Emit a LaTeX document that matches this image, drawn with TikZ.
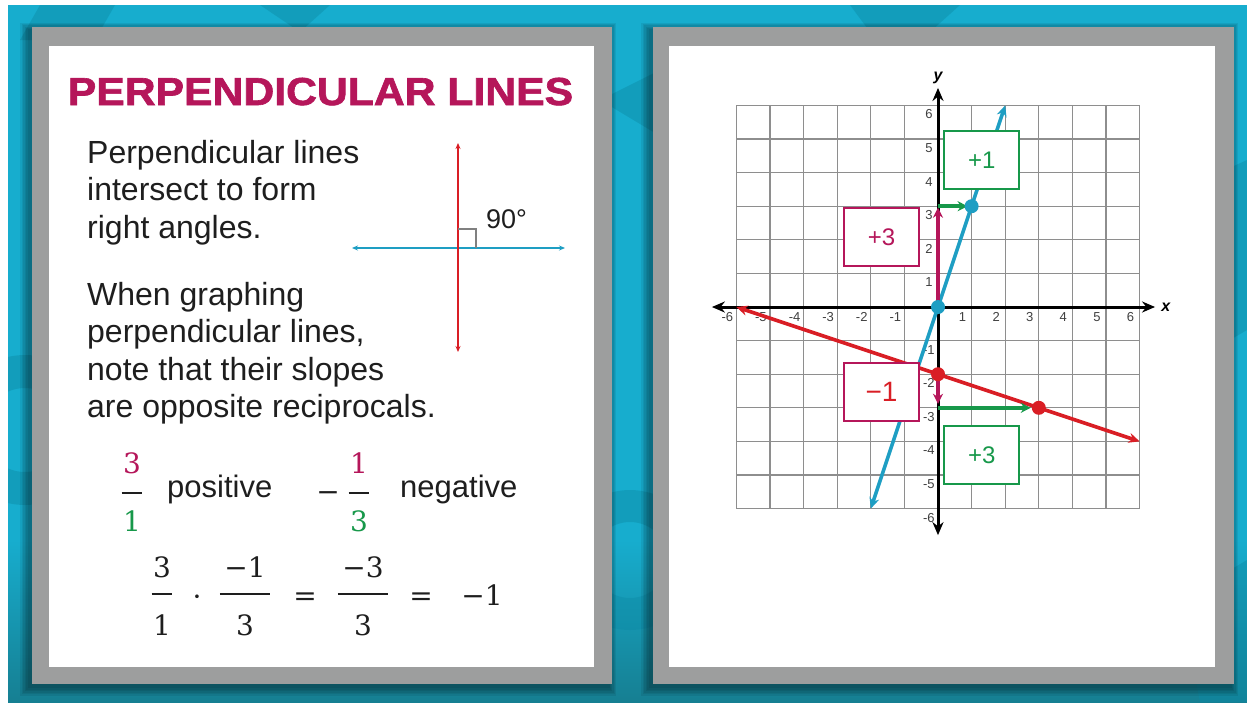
\documentclass[tikz,border=0pt]{standalone}
\usepackage{fontspec}
\newfontfamily\plainsans{Liberation Sans}
\newfontfamily\titlefont{Liberation Sans}[BoldFeatures={FakeBold=1.6}]
\newfontfamily\numserif{DejaVu Serif}
\usepackage{amsmath}
\usepackage{graphicx}
\usetikzlibrary{arrows.meta,positioning}
\definecolor{tealbg}{HTML}{17ADCE}
\definecolor{tealdark}{HTML}{0C8BA6}
\definecolor{tealfoot}{HTML}{167F92}
\definecolor{framegray}{HTML}{9D9E9E}
\definecolor{berry}{HTML}{B5165A}
\definecolor{leaf}{HTML}{17984A}
\definecolor{sky}{HTML}{1E9EC3}
\definecolor{ruby}{HTML}{D91E25}
\definecolor{gridgray}{HTML}{8E8E8E}
\definecolor{ink}{HTML}{1E1E1E}
% fraction with serif digits: numerator, denominator, side kern,
% numerator depth, denominator height
\newcommand{\numfrac}[5]{%
  \genfrac{}{}{1.8pt}{0}%
    {\kern#3\text{\numserif#1}\kern#3\rule[-#4]{0pt}{0pt}}%
    {\rule{0pt}{#5}\text{\numserif#2}}}
\tikzset{
  panel/.style={fill=framegray},
  panelface/.style={fill=white},
  bgshape/.style={fill=tealdark, opacity=0.45},
  titletext/.style={
    font=\titlefont\bfseries\fontsize{39}{39}\selectfont,
    text=berry, inner sep=0pt, anchor=base
  },
  bodytext/.style={
    font=\plainsans\fontsize{32}{37.5}\selectfont,
    text=ink, align=left, inner sep=0pt, anchor=north west
  },
  wordtext/.style={
    font=\plainsans\fontsize{31}{31}\selectfont,
    text=ink, inner sep=0pt, anchor=base west
  },
  mathbit/.style={
    font=\numserif\fontsize{28}{34}\selectfont, text=ink, inner sep=0pt,
    anchor=base
  },
  perpline/.style={
    #1, line width=1.6pt,
    {Stealth[length=6pt,width=5pt]}-{Stealth[length=6pt,width=5pt]}
  },
  anglemark/.style={gray, line width=1.2pt},
  gridline/.style={gridgray, line width=1.2pt},
  axisline/.style={
    black, line width=3pt,
    {Stealth[length=13pt,width=11pt]}-{Stealth[length=13pt,width=11pt]}
  },
  graphline/.style={
    #1, line width=3.6pt,
    {Stealth[length=11pt,width=10pt]}-{Stealth[length=11pt,width=10pt]}
  },
  runarrow/.style={#1, line width=3.6pt, -{Stealth[length=10pt,width=10pt]}},
  ptdot/.style={circle, fill=#1, minimum size=14pt, inner sep=0pt},
  stepbox/.style={
    draw=#1, line width=2pt, fill=white,
    minimum width=75pt, minimum height=58pt, inner sep=0pt,
    font=\plainsans\fontsize{24}{24}\selectfont, text=#1
  },
  ticklabel/.style={
    font=\plainsans\fontsize{13}{13}\selectfont, text=black!75, inner sep=0pt
  },
  axislabel/.style={
    font=\plainsans\bfseries\itshape\fontsize{16}{16}\selectfont, inner sep=0pt
  },
}

\begin{document}
\begin{tikzpicture}[x=1pt, y=-1pt]
  \useasboundingbox (0,0) rectangle (1247,702);
  \fill[white] (0,0) rectangle (1247,702);

  % Backdrop
  \fill[tealbg] (8,5) rectangle (1247,702);
  \shade[top color=tealbg, bottom color=tealfoot] (8,540) rectangle (1247,702);
  \begin{scope}
    \clip (8,5) rectangle (1247,702);
    \fill[bgshape, even odd rule] (25,430) circle (75) (25,430) circle (42);
    \fill[bgshape] (40,5) -- (115,5) -- (95,40) -- (20,40) -- cycle;
    \fill[bgshape] (260,5) -- (330,5) -- (300,32) -- cycle;
    \fill[bgshape] (850,5) -- (960,5) -- (930,32) -- (870,32) -- cycle;
    \fill[bgshape] (600,100) -- (680,60) -- (700,160) -- cycle;
    \fill[bgshape, even odd rule] (630,560) circle (70) (630,560) circle (38);
    \fill[bgshape] (1225,170) -- (1247,160) -- (1247,330) -- (1230,340) -- cycle;
    \fill[bgshape] (1180,600) -- (1247,560) -- (1247,702) -- (1200,702) -- cycle;
  \end{scope}

  % Frame shadows
  \foreach \xa/\xb in {32/612, 653/1234}
    \foreach \k in {0,...,5}
      \fill[black, opacity=0.07]
        (\xa-4-\k*1.6, 29-\k*1.2) rectangle (\xb-2+\k*1.2, 688+\k*1.6);

  % Panels
  \fill[panel] (32,27) rectangle (612,684);
  \fill[panelface] (49,46) rectangle (594,667);
  \fill[panel] (653,27) rectangle (1234,684);
  \fill[panelface] (669,46) rectangle (1215,667);

  % Left panel text
  \node[titletext] (title) at (320.5,105)
    {\scalebox{1.095}[1]{PERPENDICULAR LINES}};
  \node[bodytext] (intro) at (87,140)
    {Perpendicular lines\\intersect to form\\right angles.};
  \node[bodytext] (hint) at (87,282)
    {When graphing\\perpendicular lines,\\note that their slopes\\are opposite reciprocals.};

  % Right angle sketch
  \coordinate (vtop) at (458,143);
  \coordinate (vbot) at (458,352);
  \coordinate (hleft) at (352,248);
  \coordinate (hright) at (565,248);
  \coordinate (cross) at (458,248);
  \draw[perpline=sky] (hleft) -- (hright);
  \draw[perpline=ruby] (vtop) -- (vbot);
  \draw[anglemark] (cross) ++(0,-19) -- ++(18,0) -- ++(0,19);
  \node[font=\plainsans\fontsize{27}{27}\selectfont, text=ink,
        anchor=base west, inner sep=0pt] (deg) at (486,228) {90°};

  % Slopes
  \node[mathbit] (slopeA) at (132,499)
    {$\numfrac{\color{berry}3}{\color{leaf}1}{1.5pt}{13pt}{32pt}$};
  \node[wordtext] (posword) at (167,497) {positive};
  \node[mathbit] (negsign) at (328,501) {−};
  \node[mathbit] (slopeB) at (359,499)
    {$\numfrac{\color{berry}1}{\color{leaf}3}{1.5pt}{13pt}{32pt}$};
  \node[wordtext] (negword) at (400,497) {negative};

  % Product of the slopes
  \node[mathbit] (facA) at (162,600) {$\numfrac{3}{1}{1.5pt}{10pt}{35pt}$};
  \node[mathbit] (times) at (197,606) {·};
  \node[mathbit] (facB) at (245,600) {$\numfrac{−1}{3}{4.5pt}{10pt}{35pt}$};
  \node[mathbit] (eqA) at (305,605) {=};
  \node[mathbit] (prod) at (363,600) {$\numfrac{−3}{3}{4.5pt}{10pt}{35pt}$};
  \node[mathbit] (eqB) at (421,605) {=};
  \node[mathbit] (result) at (482,605) {−1};

  % Coordinate plane
  \begin{scope}[shift={(938,307)}, x=33.6pt, y=33.6pt]
    \draw[gridline, step=1] (-6,-6) grid (6,6);
    \foreach \tk in {-6,-5,-4,-3,-2,-1,1,2,3,4,5,6} {
      \node[ticklabel] at (\tk-0.27,-0.3) {\tk};
      \node[ticklabel] at (-0.27,\tk-0.27) {\tk};
    }

    % Axes
    \coordinate (xl) at (-6.73,0);
    \coordinate (xr) at (6.46,0);
    \coordinate (yb) at (0,-6.79);
    \coordinate (yt) at (0,6.52);
    \draw[axisline] (xl) -- (xr);
    \draw[axisline] (yb) -- (yt);
    \node[axislabel] (xname) at (6.78,0) {x};
    \node[axislabel] (yname) at (0,6.82) {y};

    % The two lines
    \coordinate (skyA) at (-2,-6);
    \coordinate (skyB) at (2,6);
    \coordinate (rubyA) at (-6,0);
    \coordinate (rubyB) at (6,-4);
    \draw[graphline=sky] (skyA) -- (skyB);
    \draw[graphline=ruby] (rubyA) -- (rubyB);

    % Rise and run
    \coordinate (O) at (0,0);
    \coordinate (P) at (1,3);
    \coordinate (Q) at (0,-2);
    \coordinate (R) at (3,-3);
    \coordinate (rise) at (0,3);
    \coordinate (drop) at (0,-3);
    \draw[runarrow=berry, shorten >=1.5pt] (O) -- (rise);
    \draw[runarrow=leaf, shorten >=4pt] (rise) -- (P);
    \draw[runarrow=berry, shorten >=4pt] (Q) -- (drop);
    \draw[runarrow=leaf, shorten >=8pt] (drop) -- (R);

    \node[stepbox=leaf] (runone) at (1.3,4.37) {+1};
    \node[stepbox=berry] (risethree) at (-1.68,2.08) {+3};
    \node[stepbox=berry, text=ruby, font=\plainsans\fontsize{28}{28}\selectfont]
      (fallone) at (-1.68,-2.54) {−1};
    \node[stepbox=leaf] (runthree) at (1.3,-4.4) {+3};

    \node[ptdot=sky] (dotO) at (O) {};
    \node[ptdot=sky] (dotP) at (P) {};
    \node[ptdot=ruby] (dotQ) at (Q) {};
    \node[ptdot=ruby] (dotR) at (R) {};
  \end{scope}
\end{tikzpicture}
\end{document}
